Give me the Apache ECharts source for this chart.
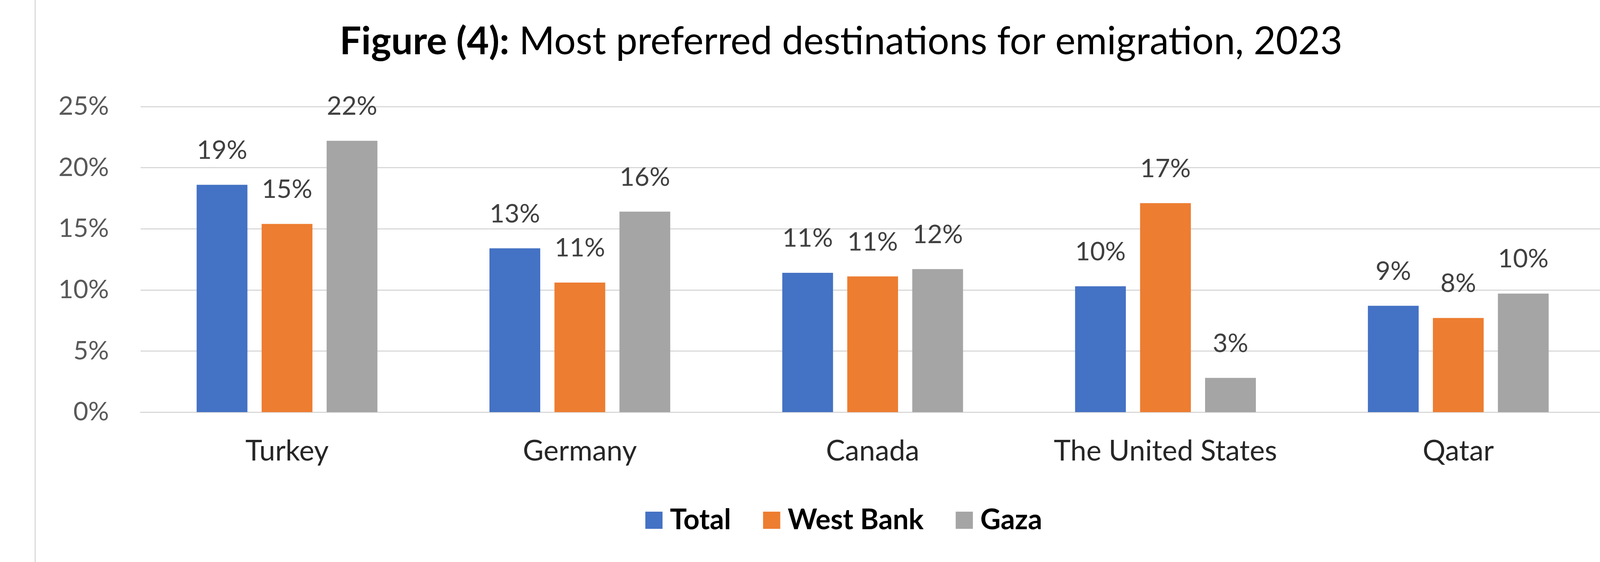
<!DOCTYPE html>
<html>
<head>
<meta charset="utf-8">
<script src="https://cdn.jsdelivr.net/npm/echarts@6/dist/echarts.min.js"></script>
<style>html,body{margin:0;padding:0;background:#fff;}#chart{width:4320px;height:1440px;}</style>
</head>
<body>
<div id="chart"></div>
<script>
const categories = ['Turkey', 'Germany', 'Canada', 'The United States', 'Qatar'];
const totalValues = [18.6, 13.4, 11.4, 10.3, 8.7];
const westBankValues = [15.4, 10.6, 11.1, 17.1, 7.7];
const gazaValues = [22.2, 16.4, 11.7, 2.8, 9.7];
const seriesNames = ['Total', 'West Bank', 'Gaza'];
const yTicks = { min: 0, max: 25, interval: 5 };

const FONT = 'Lato';
const chart = echarts.init(document.getElementById('chart'));

function barSeries(name, data, color) {
  return {
    name: name,
    type: 'bar',
    data: data,
    barWidth: 130,
    barGap: '28%',
    itemStyle: { color: color },
    label: {
      show: true,
      position: 'top',
      distance: 55,
      fontFamily: FONT,
      fontSize: 66,
      color: '#404040',
      formatter: p => Math.round(p.value) + '%'
    }
  };
}

chart.setOption({
  animation: false,
  backgroundColor: '#ffffff',
  title: {
    text: '{b|Figure (4):}{r| Most preferred destinations for emigration, 2023}',
    left: 2148,
    textAlign: 'center',
    top: 44,
    textStyle: {
      rich: {
        b: { fontFamily: FONT, fontWeight: 'bold', fontSize: 98, color: '#000', lineHeight: 116 },
        r: { fontFamily: FONT, fontWeight: 'normal', fontSize: 98, color: '#000', lineHeight: 116 }
      }
    }
  },
  legend: {
    data: seriesNames,
    left: 'center',
    top: 1292,
    icon: 'rect',
    itemWidth: 44,
    itemHeight: 44,
    itemGap: 82,
    textStyle: {
      fontFamily: FONT,
      fontWeight: 'bold',
      fontSize: 72,
      color: '#000',
      padding: [0, 0, 0, 14]
    }
  },
  grid: { left: 360, right: 212, top: 273, bottom: 384, containLabel: false },
  xAxis: {
    type: 'category',
    data: categories,
    axisLine: { lineStyle: { color: '#d9d9d9', width: 3 } },
    axisTick: { show: false },
    axisLabel: { fontFamily: FONT, fontSize: 73, color: '#262626', margin: 64 }
  },
  yAxis: {
    type: 'value',
    min: yTicks.min,
    max: yTicks.max,
    interval: yTicks.interval,
    axisLine: { show: false },
    axisTick: { show: false },
    splitLine: { lineStyle: { color: '#d9d9d9', width: 3 } },
    axisLabel: { fontFamily: FONT, fontSize: 66, color: '#595959', margin: 81, formatter: '{value}%' }
  },
  graphic: [
    { type: 'line', shape: { x1: 90, y1: 0, x2: 90, y2: 1440 }, style: { stroke: '#d9d9d9', lineWidth: 3 } },
    { type: 'line', shape: { x1: 4206, y1: 0, x2: 4206, y2: 1440 }, style: { stroke: '#d9d9d9', lineWidth: 3 } }
  ],
  series: [
    barSeries(seriesNames[0], totalValues, '#4472C4'),
    barSeries(seriesNames[1], westBankValues, '#ED7D31'),
    barSeries(seriesNames[2], gazaValues, '#A5A5A5')
  ]
});
</script>
</body>
</html>
